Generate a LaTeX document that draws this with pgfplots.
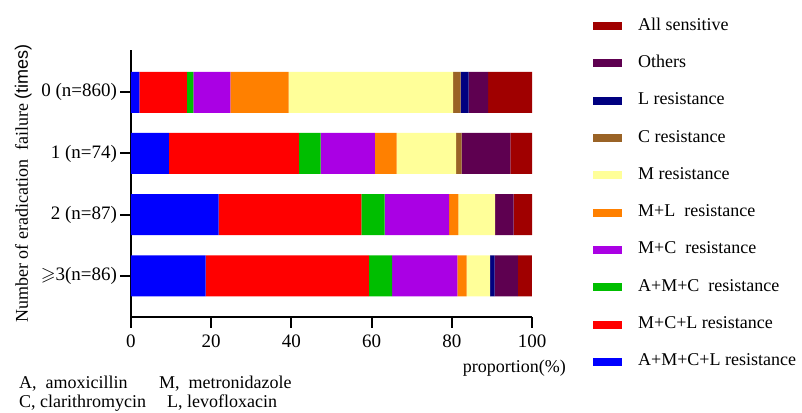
\documentclass[border=0pt]{standalone}
\usepackage{pgfplots}
\pgfplotsset{compat=1.18}
\usepackage{amssymb}
\usepackage{fontspec}
\setmainfont{Liberation Serif}
\newfontfamily\arialfont{Liberation Sans}
\definecolor{cAMCL}{RGB}{0,0,255}
\definecolor{cMCL}{RGB}{255,0,0}
\definecolor{cAMC}{RGB}{0,190,0}
\definecolor{cMC}{RGB}{170,0,228}
\definecolor{cML}{RGB}{255,128,0}
\definecolor{cM}{RGB}{255,255,153}
\definecolor{cC}{RGB}{154,99,38}
\definecolor{cL}{RGB}{0,0,128}
\definecolor{cOth}{RGB}{94,0,80}
\definecolor{cAll}{RGB}{160,0,0}
\begin{document}
\begin{tikzpicture}
\useasboundingbox (-131pt,-95pt) rectangle (671pt,317pt);
\begin{axis}[
  at={(0pt,0pt)}, anchor=south west,
  scale only axis, width=401pt, height=267pt,
  xbar stacked, bar width=41pt,
  xmin=0, xmax=100, ymin=-0.67, ymax=3.69,
  axis x line=bottom, axis y line=left,
  axis line style={-, line width=2pt, black},
  xtick={0,20,40,60,80,100},
  ytick={0,1,2,3},
  yticklabels={{$\geqslant$3(n=86)},{2 (n=87)},{1 (n=74)},{0 (n=860)}},
  tick align=outside, major tick length=10.5pt,
  tick style={line width=2pt, black},
  font=\fontsize{18}{21}\selectfont,
  tick label style={font=\fontsize{19}{22}\selectfont},
  xticklabel style={yshift=-4pt},
  /pgf/number format/assume math mode=true,
  xlabel={proportion(\%)},
  xlabel style={at={(axis description cs:0.956,-0.2097)}, anchor=base, inner sep=0pt},
  ylabel={Number of eradication\ \ failure {\arialfont(times)}},
  ylabel style={at={(axis description cs:-0.257,0.5)}, anchor=base, inner sep=0pt, rotate=0},
  reverse legend,
  legend cell align=left,
  legend image code/.code={\fill[#1] (0pt,-4pt) rectangle (29pt,4pt);},
  legend style={at={(rel axis cs:1.152,1.1199)}, anchor=north west, draw=none, fill=none,
    inner sep=0pt, row sep=21.3pt, column sep=16pt,
    nodes={inner sep=0pt, text height=12pt, text depth=4pt, anchor=west},
    font=\fontsize{18}{21}\selectfont},
]
\addplot[fill=cAMCL, draw=none] coordinates {(2.09,3) (9.46,2) (21.84,1) (18.60,0)};
\addlegendentry{A+M+C+L resistance}
\addplot[fill=cMCL, draw=none] coordinates {(11.86,3) (32.43,2) (35.63,1) (40.70,0)};
\addlegendentry{M+C+L resistance}
\addplot[fill=cAMC, draw=none] coordinates {(1.63,3) (5.41,2) (5.75,1) (5.81,0)};
\addlegendentry{A+M+C\ \ resistance}
\addplot[fill=cMC, draw=none] coordinates {(9.19,3) (13.51,2) (16.09,1) (16.28,0)};
\addlegendentry{M+C\ \ resistance}
\addplot[fill=cML, draw=none] coordinates {(14.53,3) (5.41,2) (2.30,1) (2.33,0)};
\addlegendentry{M+L\ \ resistance}
\addplot[fill=cM, draw=none] coordinates {(41.05,3) (14.86,2) (9.20,1) (5.81,0)};
\addlegendentry{M resistance}
\addplot[fill=cC, draw=none] coordinates {(1.86,3) (1.35,2) (0,1) (0,0)};
\addlegendentry{C resistance}
\addplot[fill=cL, draw=none] coordinates {(1.98,3) (0,2) (0,1) (1.16,0)};
\addlegendentry{L resistance}
\addplot[fill=cOth, draw=none] coordinates {(4.88,3) (12.16,2) (4.60,1) (5.81,0)};
\addlegendentry{Others}
\addplot[fill=cAll, draw=none] coordinates {(10.93,3) (5.41,2) (4.60,1) (3.49,0)};
\addlegendentry{All sensitive}
\end{axis}
\begin{scope}[every node/.style={font=\fontsize{18}{21}\selectfont, inner sep=0pt, anchor=base west}]
\node at (-112pt,-71pt) {A,\ \ amoxicillin};
\node at (28pt,-71pt) {M,\ \ metronidazole};
\node at (-112pt,-90pt) {C, clarithromycin};
\node at (36pt,-90pt) {L, levofloxacin};
\end{scope}
\end{tikzpicture}
\end{document}
